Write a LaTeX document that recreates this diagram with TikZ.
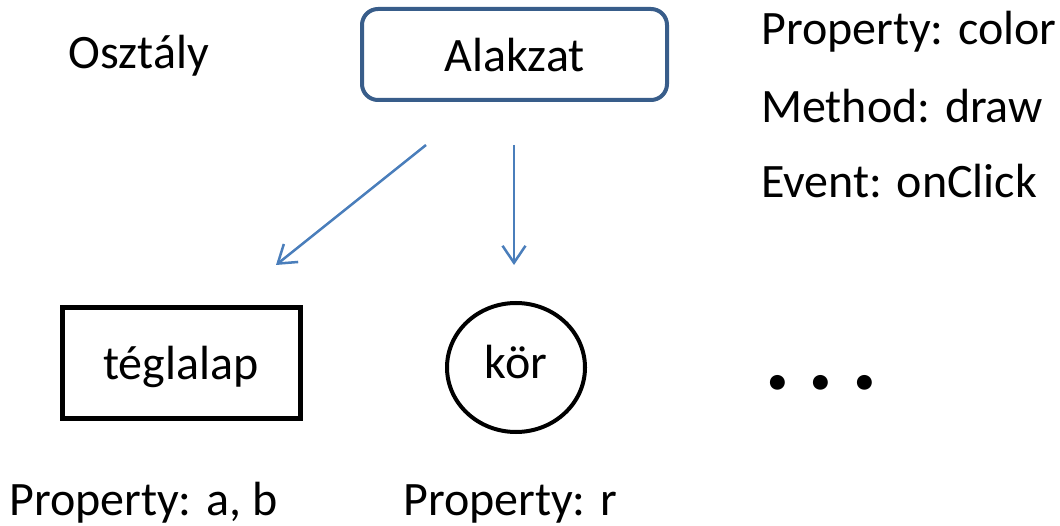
\documentclass[tikz,border=0pt]{standalone}
\usepackage{fontspec}
\setmainfont{Carlito}
\usetikzlibrary{arrows.meta,shapes.geometric}
\definecolor{boxblue}{HTML}{385D8A}
\definecolor{arrblue}{HTML}{4A7EBB}
\tikzset{
  txt/.style={inner sep=0pt, font=\fontsize{48}{57}\selectfont, anchor=base west},
  shapetxt/.style={inner sep=0pt, font=\fontsize{48}{57}\selectfont, text depth=0pt},
  classbox/.style={shapetxt, draw=boxblue, line width=4pt, rounded corners=16pt, fill=white,
    minimum width=305pt, minimum height=91pt, text height=35pt},
  rectbox/.style={shapetxt, draw=black, line width=5pt, minimum width=238pt, minimum height=110pt, text height=34pt},
  circbox/.style={shapetxt, draw=black, line width=4pt, ellipse, minimum width=138pt, minimum height=129pt, text height=21pt},
  conn/.style={draw=arrblue, line width=2.5pt, -{Straight Barb[length=17pt,width=23pt,line width=2.5pt]}}
}
\begin{document}
\begin{tikzpicture}[x=1pt,y=-1pt]
\useasboundingbox (0,0) rectangle (1060,526);
\node[txt] (osztaly) at (68.5,69) {Osztály};
\node[classbox] (alakzat) at (514.5,54.5) {Alakzat};
\node[txt] (prop) at (761,45) {Property: color};
\node[txt] (meth) at (761,123) {Method: draw};
\node[txt] (evt) at (761,198) {Event: onClick};
\node[rectbox] (tegla) at (181,363) {téglalap};
\node[circbox] (kor) at (516,367.5) {kör};
\node[txt, font=\fontsize{100}{110}\selectfont\bfseries] (dots) at (764,389) {.\hspace{17pt}.\hspace{17pt}.};
\node[txt] (propab) at (9,515) {Property: a, b};
\node[txt] (propr) at (403,515) {Property: r};
\coordinate (a1s) at (426,145);
\coordinate (a1e) at (276,265);
\coordinate (a2s) at (514,145);
\coordinate (a2e) at (514,265);
\draw[conn] (a1s) -- (a1e);
\draw[conn] (a2s) -- (a2e);
\end{tikzpicture}
\end{document}
